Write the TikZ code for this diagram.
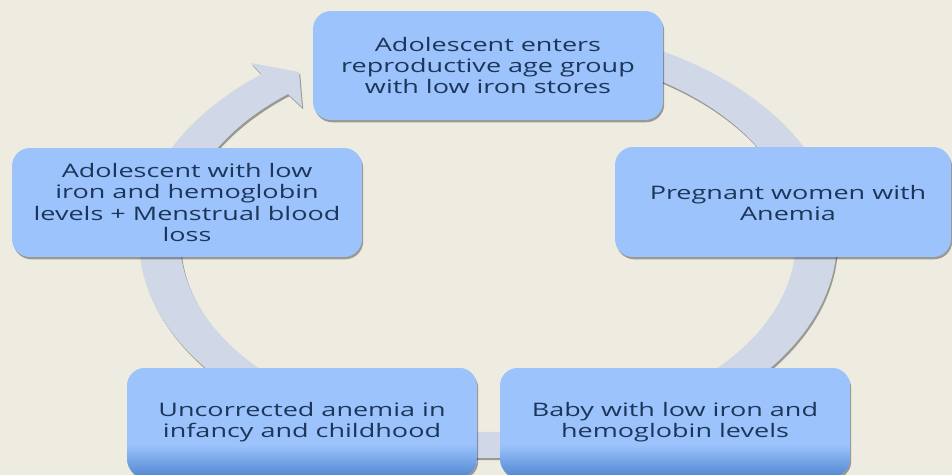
\documentclass[tikz,border=0pt]{standalone}
\usepackage{fontspec}
\newfontfamily\boxfont[FakeStretch=1.45]{Open Sans}
\usetikzlibrary{shadows}
\definecolor{bg}{HTML}{EEECE1}
\definecolor{ringc}{HTML}{D0D8E8}
\definecolor{boxc}{HTML}{9DC3FC}
\definecolor{boxdark}{HTML}{5087D2}
\definecolor{txt}{HTML}{1C365A}
\pgfdeclareverticalshading{boxgrad}{100bp}{color(0bp)=(boxdark); color(25bp)=(boxdark); color(40bp)=(boxc); color(100bp)=(boxc)}
\begin{document}
\begin{tikzpicture}[x=0.02cm,y=-0.02cm,
  softshadow/.style={drop shadow={shadow xshift=0.7pt, shadow yshift=-1.3pt, opacity=0.35, fill=black}},
  ringfill/.style={fill=ringc, softshadow},
  cyclebox/.style={rounded corners=0.36cm, fill=boxc, inner sep=0pt, minimum width=7cm, minimum height=2.18cm, softshadow,
    text=txt, align=center, font=\boxfont\fontsize{10.6pt}{12.1pt}\selectfont},
  lowbox/.style={cyclebox, shading=boxgrad},
  boxtext/.style={inner sep=0pt, text=txt, align=center, font=\boxfont\fontsize{10.6pt}{12.1pt}\selectfont}]
\useasboundingbox (0,0) rectangle (952,475);
\clip (0,0) rectangle (952,475);
\fill[bg] (0,0) rectangle (952,475);
% ring arrow
\path[ringfill] (488,22) arc[start angle=90, end angle=-229.5, x radius=6.98cm, y radius=4.36cm]
  -- (251,63) -- (299,72) -- (302,107) -- (288,94)
  arc[start angle=-229.5, end angle=90, x radius=6.16cm, y radius=3.84cm] -- cycle;
% boxes
\node[cyclebox] (topbox) at (488,65.5) {Adolescent enters\\reproductive age group\\with low iron stores};
\node[cyclebox, minimum width=6.72cm, minimum height=2.2cm] (rightbox) at (783,202) {};
\node[boxtext] (righttext) at (788,203) {Pregnant women with\\Anemia};
\node[lowbox] (brbox) at (675,422.5) {Baby with low iron and\\hemoglobin levels};
\node[lowbox] (blbox) at (302,422.5) {Uncorrected anemia in\\infancy and childhood};
\node[cyclebox] (leftbox) at (187,202.5) {Adolescent with low\\iron and hemoglobin\\levels + Menstrual blood\\loss};
\end{tikzpicture}
\end{document}
